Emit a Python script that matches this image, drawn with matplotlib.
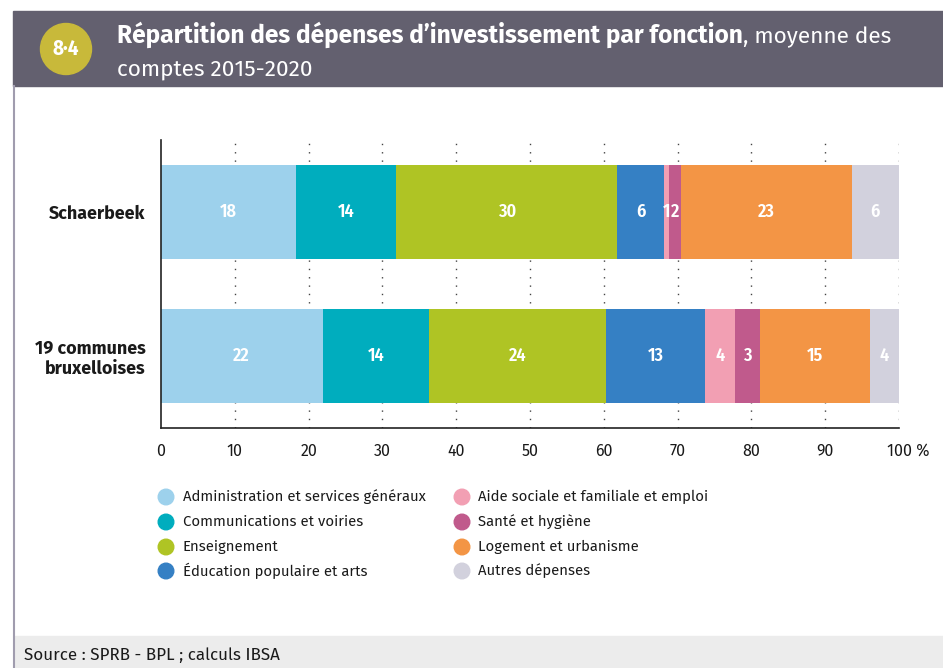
import matplotlib
matplotlib.use("Agg")
import matplotlib.pyplot as plt
from matplotlib.patches import Rectangle, Circle
from matplotlib.lines import Line2D
from matplotlib.transforms import ScaledTranslation

BASE = ['Fira Sans', 'Open Sans', 'DejaVu Sans']
COND = ['Fira Sans Condensed', 'Fira Sans', 'DejaVu Sans']
plt.rcParams['font.family'] = BASE

# Data
groups = ["Schaerbeek", "19 communes\nbruxelloises"]
categories = [
    "Administration et services généraux",
    "Communications et voiries",
    "Enseignement",
    "Éducation populaire et arts",
    "Aide sociale et familiale et emploi",
    "Santé et hygiène",
    "Logement et urbanisme",
    "Autres dépenses",
]
schaerbeek = [18.3, 13.6, 29.9, 6.4, 0.7, 1.6, 23.1, 6.4]
communes = [21.9, 14.4, 24.0, 13.4, 4.1, 3.4, 14.9, 3.9]
colors = ["#9dd1ec", "#00adbe", "#afc424", "#3580c4",
          "#f29fb3", "#c05a8c", "#f39545", "#d2d1dd"]
xticks = [0, 10, 20, 30, 40, 50, 60, 70, 80, 90, 100]
xtick_labels = ["0", "10", "20", "30", "40", "50", "60", "70", "80", "90", "100 %"]

W, H = 943, 668
fig = plt.figure(figsize=(W / 100, H / 100), dpi=100)
renderer = fig.canvas.get_renderer()


def fx(px):
    return px / W


def fy(py):
    return 1 - py / H


def fit(t, target_px):
    """Scale a text's font size so that it spans target_px."""
    w = t.get_window_extent(renderer).width
    t.set_fontsize(t.get_fontsize() * target_px / w)
    return t.get_fontsize()


# Header band, frame line and source band
fig.patches.append(Rectangle((fx(13), fy(86)), 1 - fx(13), (86 - 11) / H,
                             transform=fig.transFigure, color="#63606f", zorder=0))
fig.add_artist(Line2D([fx(14), fx(14)], [0, fy(86)], transform=fig.transFigure,
                      color="#a09cae", lw=1.5))
fig.patches.append(Rectangle((fx(15), 0), 1 - fx(15), (668 - 636) / H,
                             transform=fig.transFigure, color="#ececec", zorder=0))
src = fig.text(fx(24), fy(655), "Source : SPRB - BPL ; calculs IBSA", fontsize=12,
               color="#1a1a1a", va="center", ha="left")
fit(src, 256)

# Badge
fig.patches.append(Circle((0.66, (H - 49) / 100), 0.255,
                          transform=fig.dpi_scale_trans, color="#c8b93a", zorder=1))
fig.text(fx(66), fy(49), "8·4", fontsize=15, fontweight="bold", color="white",
         ha="center", va="center", family=COND)

# Title
t1 = fig.text(fx(117), fy(43), "Répartition des dépenses d’investissement par fonction",
              fontsize=16, fontweight="bold", color="white", ha="left", va="baseline")
fit(t1, 628)
t3 = fig.text(fx(117), fy(76), "comptes 2015-2020", fontsize=16, color="white",
              ha="left", va="baseline")
fs_title = fit(t3, 196)
bb = t1.get_window_extent(renderer)
fig.text(bb.x1 / W, fy(43), ", moyenne des", fontsize=fs_title, color="white",
         ha="left", va="baseline")

# Chart
ax = fig.add_axes([fx(161), fy(428), fx(899) - fx(161), (428 - 140) / H])
ypos = [1, 0]
for yp, vals in zip(ypos, [schaerbeek, communes]):
    left = 0
    for v, c in zip(vals, colors):
        ax.barh(yp, v, left=left, height=0.646, color=c, zorder=2, linewidth=0)
        ax.text(left + v / 2, yp, f"{v:.0f}", color="white", fontsize=13,
                fontweight="semibold", ha="center", va="center", zorder=3,
                family=COND)
        left += v

ax.set_xlim(0, 100)
ax.set_ylim(-0.5, 1.5)
for x in xticks[1:]:
    ax.axvline(x, color="#444444", lw=1, ls=(0, (1, 5)), zorder=1)
ax.set_xticks(xticks)
ax.set_xticklabels(xtick_labels, fontsize=11.5, color="#1a1a1a")
ax.set_yticks(ypos)
ax.set_yticklabels(groups, fontsize=12, fontweight="bold", color="#1a1a1a",
                   ha="right", multialignment="right", linespacing=1.15)
ax.tick_params(axis="both", length=0)
ax.tick_params(axis="x", pad=11)
ax.tick_params(axis="y", pad=11)
ylab0 = ax.get_yticklabels()[0]
fs_y = fit(ylab0, 96)
for t in ax.get_yticklabels():
    t.set_fontsize(fs_y)
# "100 %": keep the number under its tick, the unit trailing to the right
last = ax.get_xticklabels()[-1]
last.set_transform(last.get_transform() + ScaledTranslation(0.09, 0, fig.dpi_scale_trans))
for s in ["top", "right"]:
    ax.spines[s].set_visible(False)
for s in ["left", "bottom"]:
    ax.spines[s].set_color("#222222")
    ax.spines[s].set_linewidth(1.2)

# Legend: two columns of four entries
col_x = [(166, 183), (462, 478)]
row_y = [497, 522, 547, 571]
leg_texts = []
for i, (lab, c) in enumerate(zip(categories, colors)):
    cx, tx = col_x[i // 4]
    ry = row_y[i % 4]
    fig.patches.append(Circle((cx / 100, (H - ry) / 100), 0.078,
                              transform=fig.dpi_scale_trans, color=c))
    leg_texts.append(fig.text(fx(tx), fy(ry), lab, fontsize=12, color="#1a1a1a",
                              ha="left", va="center"))
fs_leg = fit(leg_texts[0], 243)
for t in leg_texts[1:]:
    t.set_fontsize(fs_leg)

fig.savefig("out.png", dpi=100)
